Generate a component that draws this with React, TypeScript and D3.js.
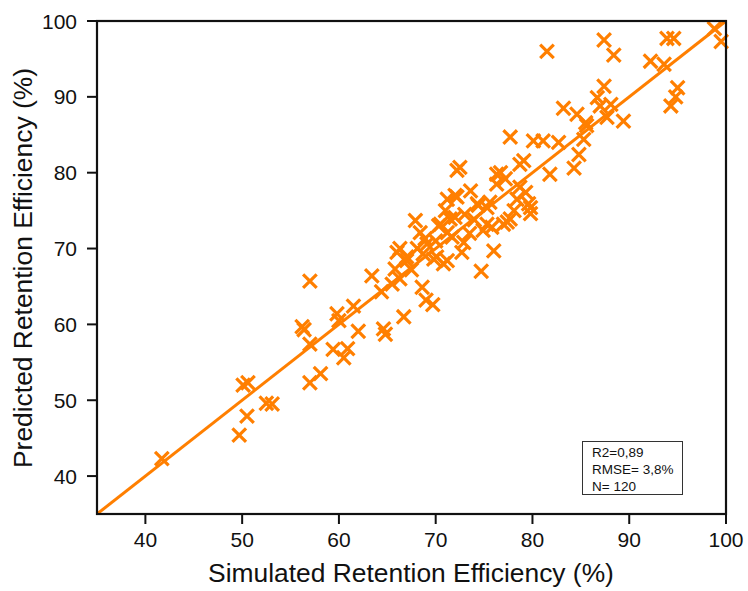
import React from "react";
import * as d3 from "d3";

const simulated = [
  41.7, 49.7, 50.5, 50.1, 50.6, 52.5, 53.1, 57.0, 56.2, 56.4,
  57.0, 57.0, 58.1, 59.4, 59.8, 60.0, 61.5, 62.0, 60.5, 60.9,
  63.4, 64.4, 64.6, 64.8, 65.8, 66.3, 66.7, 66.0, 67.0, 67.9,
  68.4, 68.9, 68.1, 68.6, 69.0, 68.7, 69.7, 72.2, 72.5, 73.6,
  71.2, 72.2, 76.3, 77.2, 74.3, 75.6, 70.3, 71.5, 72.0, 71.2,
  71.7, 72.9, 72.7, 76.0, 74.9, 75.8, 77.4, 66.3, 69.1, 70.1,
  70.8, 74.7, 81.5, 87.4, 88.4, 93.9, 94.6, 98.8, 99.5, 92.2,
  93.6, 95.0, 94.8, 94.3, 87.4, 86.7, 88.1, 87.0, 87.7, 89.4,
  83.2, 84.6, 85.5, 85.6, 85.3, 84.8, 84.3, 77.7, 80.1, 81.1,
  82.7, 81.8, 79.1, 78.7, 76.3, 78.7, 79.3, 78.4, 79.6, 79.8,
  78.1, 77.7, 77.0, 70.5, 71.2, 69.8, 75.3, 67.0, 76.7, 74.4,
  75.3, 79.8, 73.0, 70.0, 73.5, 67.5, 71.0, 74.0, 65.5, 72.0,
];

const predicted = [
  42.3, 45.4, 47.9, 52.0, 52.3, 49.6, 49.5, 65.7, 59.7, 59.3,
  57.4, 52.3, 53.5, 56.7, 61.4, 60.5, 62.4, 59.1, 55.6, 56.8,
  66.4, 64.3, 59.4, 58.7, 67.3, 66.0, 61.0, 69.5, 68.9, 73.7,
  72.1, 71.3, 70.0, 64.9, 63.2, 69.3, 62.6, 80.3, 80.7, 77.6,
  76.5, 76.8, 79.8, 79.2, 75.9, 76.1, 73.0, 73.9, 74.1, 72.1,
  71.5, 70.8, 69.5, 69.7, 72.4, 72.8, 73.5, 70.0, 70.6, 68.9,
  68.0, 67.0, 96.0, 97.5, 95.5, 97.7, 97.7, 99.0, 97.3, 94.7,
  94.3, 91.2, 90.0, 88.8, 91.4, 89.9, 89.0, 88.8, 87.3, 86.8,
  88.5, 87.7, 86.6, 86.2, 84.4, 82.4, 80.6, 84.7, 84.2, 84.2,
  84.0, 79.8, 81.6, 81.1, 78.5, 78.1, 77.4, 76.5, 75.9, 74.6,
  75.0, 73.9, 73.2, 73.2, 68.4, 68.6, 75.4, 68.4, 80.0, 75.7,
  73.2, 75.4, 74.5, 71.0, 72.0, 67.2, 75.0, 73.8, 65.3, 77.0,
];

const xTicks = [40, 50, 60, 70, 80, 90, 100];
const yTicks = [40, 50, 60, 70, 80, 90, 100];
const fitLine = [35, 100];
const statsLines = ["R2=0,89", "RMSE= 3,8%", "N= 120"];

const ORANGE = "#FF7F00";
const FONT = "'Liberation Sans', Arial, sans-serif";

export default function App() {
  const x = d3.scaleLinear().domain([35, 100]).range([97, 726]);
  const y = d3.scaleLinear().domain([35, 100]).range([514, 21]);
  const pts = simulated.map((s, i) => [s, predicted[i]] as [number, number]);
  const line = d3
    .line<number>()
    .x((d) => x(d))
    .y((d) => y(d));
  const m = 6.8;
  const markerPath = `M${-m},${-m}L${m},${m}M${-m},${m}L${m},${-m}`;

  return (
    <div style={{ position: "absolute", left: 0, top: 0 }}>
      <svg width={748} height={591} style={{ display: "block", background: "#fff" }}>
        <g>
          {pts.map((p, i) => (
            <path
              key={i}
              d={markerPath}
              transform={`translate(${x(p[0])},${y(p[1])})`}
              stroke={ORANGE}
              strokeWidth={3.2}
              fill="none"
            />
          ))}
        </g>
        <path d={line(fitLine) || ""} stroke={ORANGE} strokeWidth={3} fill="none" />
        <rect
          x={x(35)}
          y={y(100)}
          width={x(100) - x(35)}
          height={y(35) - y(100)}
          fill="none"
          stroke="#111"
          strokeWidth={2.2}
        />
        {xTicks.map((t) => (
          <g key={"x" + t}>
            <line x1={x(t)} x2={x(t)} y1={y(35)} y2={y(35) + 10} stroke="#111" strokeWidth={2} />
            <text
              x={x(t)}
              y={y(35) + 33}
              textAnchor="middle"
              fontFamily={FONT}
              fontSize={21}
              fill="#111"
            >
              {t}
            </text>
          </g>
        ))}
        {yTicks.map((t) => (
          <g key={"y" + t}>
            <line x1={x(35) - 10} x2={x(35)} y1={y(t)} y2={y(t)} stroke="#111" strokeWidth={2} />
            <text
              x={x(35) - 20}
              y={y(t) + 7.5}
              textAnchor="end"
              fontFamily={FONT}
              fontSize={21}
              fill="#111"
            >
              {t}
            </text>
          </g>
        ))}
        <text
          x={411}
          y={582}
          textAnchor="middle"
          fontFamily={FONT}
          fontSize={26.4}
          fill="#111"
        >
          Simulated Retention Efficiency (%)
        </text>
        <text
          transform={`translate(32,268) rotate(-90)`}
          textAnchor="middle"
          fontFamily={FONT}
          fontSize={26.4}
          fill="#111"
        >
          Predicted Retention Efficiency (%)
        </text>
        <rect x={582.5} y={441.5} width={100} height={53} fill="#fff" stroke="#333" strokeWidth={1} />
        {statsLines.map((s, i) => (
          <text
            key={s}
            x={592}
            y={457 + i * 17}
            fontFamily={FONT}
            fontSize={13.5}
            fill="#111"
          >
            {s}
          </text>
        ))}
      </svg>
    </div>
  );
}
